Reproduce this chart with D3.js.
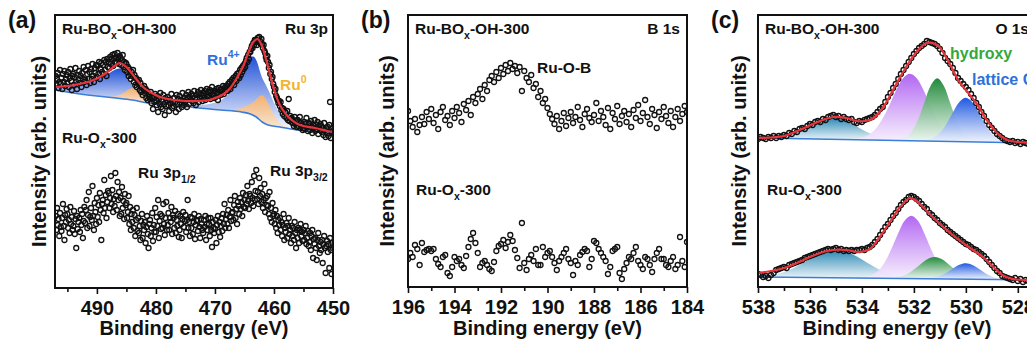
<!DOCTYPE html>
<html><head><meta charset="utf-8">
<script src="https://cdn.jsdelivr.net/npm/d3@7"></script>
<style>
html,body{margin:0;padding:0;background:#fff;overflow:hidden}
svg text{font-family:Arial,"Liberation Sans",sans-serif;font-weight:bold}
</style></head><body>
<svg id="chart" width="1027" height="345"></svg>
<script>
// ---------------- DATA ----------------
// (a) Ru 3p : binding-energy grid start / step, intensities (arb. units)
const ruStart = 497, ruStep = 0.125;
const ruBoxCounts = [
212,203,209,215,200,206,218,204, 210,199,214,206,217,202,209,213,
205,216,201,210,219,207,198,212, 214,203,211,220,206,199,213,208,
217,205,212,201,215,209,221,206, 208,218,203,214,222,209,216,205,
219,209,224,212,206,220,215,223, 211,222,214,226,209,219,225,216,
223,214,228,218,226,212,229,221, 226,220,231,224,229,233,222,230,
234,226,231,225,235,229,224,232, 230,223,228,233,221,226,218,225,
224,216,221,212,219,214,209,216, 212,218,206,213,203,210,201,207,
204,208,198,205,196,201,193,199, 202,195,199,190,197,188,194,191,
189,196,185,192,179,190,186,194, 188,183,192,176,189,184,195,181,
187,179,193,184,173,190,182,188, 191,183,177,188,185,194,180,186,
182,190,186,176,193,184,189,179, 192,185,188,181,195,187,183,190,
186,193,181,190,196,184,191,188, 194,187,192,185,197,190,183,193,
189,196,186,194,190,198,192,187, 195,190,197,188,194,199,191,196,
192,198,189,196,201,193,197,190, 197,191,199,195,188,200,194,198,
193,199,196,202,194,198,201,197, 202,197,204,200,206,199,203,208,
205,210,203,208,212,207,214,211, 215,210,218,213,220,216,222,219,
224,221,227,230,226,233,229,236, 236,239,242,240,245,243,248,246,
248,243,250,246,251,247,244,249, 244,240,243,237,235,231,228,232,
226,220,223,214,216,209,211,204, 201,196,199,192,190,188,185,187,
182,186,178,180,174,179,172,176, 175,170,177,168,189,167,172,169,
170,165,168,162,171,164,167,161, 168,162,166,171,160,165,163,158,
160,166,159,164,170,161,157,165, 164,158,167,161,155,163,160,168,
157,163,159,166,154,161,158,164, 162,156,160,153,165,158,151,160,
155,161,152,163,186,150,159,156, 157];
const ruOxCounts = [
72,58,80,63,69,52,75,61, 57,70,84,62,48,73,66,79,
74,60,68,55,81,64,71,58, 62,77,54,69,40,72,59,66,
70,56,78,63,74,50,67,81, 65,78,88,60,73,96,62,71,
80,68,102,72,58,85,76,64, 90,71,83,66,95,78,48,84,
88,75,108,80,93,70,86,97, 95,80,90,112,84,98,76,89,
82,115,92,78,106,88,96,72, 90,74,101,80,87,69,94,83,
85,70,76,92,64,81,58,74, 66,78,60,73,52,68,80,57,
70,55,62,48,67,74,50,63, 58,66,45,61,72,54,40,64,
68,52,60,75,47,63,56,80, 56,71,62,88,50,67,74,59,
72,60,84,64,53,70,86,58, 63,75,58,70,66,81,54,73,
70,60,77,55,68,62,74,51, 58,72,64,50,69,76,61,67,
73,56,68,88,60,66,52,71, 60,70,54,66,74,49,63,68,
67,57,72,61,50,69,64,58, 55,68,61,72,48,64,58,70,
64,52,70,58,41,66,60,55, 59,68,45,63,72,56,66,51,
62,70,57,74,64,84,60,69, 73,64,78,60,71,88,67,75,
76,68,83,92,70,79,64,86, 82,74,90,79,86,72,95,81,
88,80,93,84,102,87,79,94, 92,85,106,90,82,112,88,97,
118,89,96,84,110,92,100,86, 94,80,88,104,76,90,83,92,
82,74,96,70,80,66,85,72, 74,64,78,60,72,55,68,63,
70,58,66,52,63,74,48,60, 56,65,50,62,70,54,58,45,
62,52,60,48,66,55,40,58, 50,60,45,58,64,52,56,47,
58,48,55,62,44,50,57,42, 46,55,38,52,58,30,49,44,
50,40,28,48,55,42,35,46, 38,48,25,44,52,40,15,42,
47,36,44,20,50,38,14,45, 40];
const ruFit = [[497.1,201],[495,202],[493,204],[491,207],[489.5,211],[488,217],[487,222],[486.1,225],[485.2,222],[484.4,217],[483.2,208],[482.2,201],[481,196],[479.3,191],[477,188],[475,187],[473,187],[471,188],[469.5,191],[468.5,194],[467.4,200],[466.3,210],[465.2,222],[464.3,236],[463.5,246],[462.8,249],[462.1,243],[461.4,230],[460.6,212],[459.8,195],[459,183],[458,174],[457,168],[456,164],[455,162],[453,160],[451,157],[450,156]];
const ruBaseline = [[497.1,198],[494,195],[490,192],[486.8,190],[484,188],[481.3,185],[477,183],[472.8,180],[469,178],[465.5,176],[464,174],[463,171],[462,166],[461,163],[459,161],[456,158],[450,155]];
const ru4p12 = [[497.1,3],[495,6],[493,10],[491,14],[489.5,19],[488,24],[487,28],[486.1,30],[485.2,27],[484.4,18],[483.2,10],[482.2,7],[481,6],[479.3,5],[477,4],[475,3],[472,2],[469,1]];
const ru4p32 = [[476,1.5],[473,3],[471,5],[469.5,8],[468.5,12],[467.4,19],[466.3,30],[465.2,40],[464.3,53],[463.8,58],[463.4,59],[462.9,56],[462.4,49],[462,44],[461.4,39],[460.6,31],[459.8,21],[459,14],[458,10],[457,7],[455,4],[453,2.5],[450,1]];
const ru0p12 = [[488,0.5],[487,1.5],[486,4],[485.2,7.5],[484.4,11],[483.6,12],[482.8,10.5],[482,7.5],[481.2,4.5],[480.4,2],[479.6,0.7]];
const ru0p32 = [[468,0.5],[467,1.5],[466,3],[465,6],[464,10],[463.2,16],[462.5,23],[461.9,27],[461.3,24],[460.6,17],[459.9,10],[459.2,5],[458.4,2],[457.6,0.6]];
const ruMajor = [490,480,470,460,450], ruMinor = [495,485,475,465,455];

// (b) B 1s
const bStart = 196, bStep = 0.1;
const bBoxCounts = [
176,166,160,168,155,162,170,163,175,168, 178,164,172,158,175,180,167,171,162,176,
169,180,174,165,183,177,186,172,190,184, 193,198,188,202,196,207,211,205,215,209,
219,213,222,216,224,218,221,214,220,196, 216,209,205,212,199,203,190,196,184,188,
179,173,168,163,171,158,166,174,161,169, 175,164,170,180,167,160,173,178,169,165,
172,184,166,176,170,162,179,158,174,168, 181,163,171,176,165,173,160,177,169,182,
166,174,187,170,163,178,172,159,175,168, 180,171,164,176,160,170,178,166,173,181,175];
const bOxCounts = [
28,34,30,42,38,22,44,35,37,38, 36,38,28,23,20,30,32,14,11,20,
30,26,28,22,19,31,40,48,54,44, 34,20,24,26,22,18,16,25,36,41,
43,47,39,45,52,46,37,29,19,64, 24,17,28,32,26,38,22,22,40,30,
34,36,30,24,17,26,30,34,38,28, 24,12,26,22,32,35,38,36,20,28,
46,44,38,34,30,26,13,20,36,38, 40,14,8,18,24,30,28,34,40,26,
22,18,30,28,22,15,28,34,38,28, 28,22,20,26,30,18,22,50,26,20,45];
const bMajor = [196,194,192,190,188,186,184], bMinor = [195,193,191,189,187,185];

// (c) O 1s
const oStart = 538, oStep = 0.1;
const oBoxCounts = [
148,150,149,148,150,149,151,149,151,150, 152,151,154,153,156,155,158,159,158,161,
163,162,165,166,165,168,167,170,171,172, 170,171,168,170,168,167,168,165,164,166,
165,167,168,169,170,172,175,178,180,185, 190,194,199,203,208,213,217,221,225,229,
233,236,239,241,243,246,245,244,243,241, 238,234,229,226,223,219,214,209,206,203,
200,197,193,189,184,180,175,171,166,162, 159,156,153,151,149,147,146,145,146,144,
145,143,145,144,143,145,143,144];
const oOxCounts = [
13,12,10,11,9,12,14,17,18,19, 20,19,22,23,24,25,26,27,29,30,
31,32,33,34,35,36,37,38,37,38, 39,37,38,36,37,36,37,36,37,37,
38,37,39,40,42,45,48,52,56,60, 63,67,71,74,78,82,85,87,90,91,
90,88,86,83,80,78,74,72,69,67, 64,62,60,57,55,53,51,49,47,45,
43,42,40,38,37,35,33,31,28,25, 22,19,16,14,11,10,9,8,7,9,
6,8,5,7,6,8,6,7];
const oBoxFit = [[538,149],[537.5,149.5],[537,151],[536.4,157],[535.7,165],[535.1,170],[534.6,169],[534.2,166],[533.9,166],[533.6,168],[533.2,179],[532.7,202],[532.3,220],[531.9,235],[531.5,244],[531.1,242],[530.7,227],[530.3,207],[530,197],[529.6,184],[529.2,167],[528.8,154],[528.4,147],[528,145],[527.3,144]];
const oOxFit = [[538,14],[537.5,16],[537,19],[536.5,24],[536,30],[535.5,35],[535.1,37],[534.6,37],[534.1,35],[533.7,38],[533.4,47],[533.1,58],[532.8,70],[532.5,81],[532.15,89],[531.9,86],[531.65,80],[531.2,68],[530.6,54],[530,42],[529.3,29],[528.9,19],[528.6,12],[528.2,8],[527.3,7]];
const oBoxBaseline = [[538,149],[527.3,144]];
const oOxBaseline = [[538,10],[527.3,7]];
// component heights above baseline
const oBoxTeal = [[537.6,0.5],[537.35,1],[537.1,1.9],[536.85,3.3],[536.6,5.5],[536.35,8.4],[536.1,11.9],[535.85,15.6],[535.6,18.9],[535.35,21.2],[535.1,22],[534.85,21.2],[534.6,18.9],[534.35,15.6],[534.1,11.9],[533.85,8.4],[533.6,5.5],[533.35,3.3],[533.1,1.9],[532.85,1],[532.6,0.5]];
const oBoxPurple = [[534.15,1.1],[533.9,2.9],[533.65,6.7],[533.4,13.6],[533.15,24.2],[532.9,37.7],[532.65,51.9],[532.4,62.9],[532.15,67],[531.9,62.9],[531.65,51.9],[531.4,37.7],[531.15,24.2],[530.9,13.6],[530.65,6.7],[530.4,2.9],[530.15,1.1]];
const oBoxGreen = [[532.6,0.7],[532.35,2.8],[532.1,8.5],[531.85,20.5],[531.6,38.2],[531.35,55.6],[531.1,63],[530.85,55.6],[530.6,38.2],[530.35,20.5],[530.1,8.5],[529.85,2.8],[529.6,0.7]];
const oBoxBlue = [[531.5,1.1],[531.25,3.3],[531,8.4],[530.75,17.4],[530.5,29.1],[530.25,39.7],[530,44],[529.75,39.7],[529.5,29.1],[529.25,17.4],[529,8.4],[528.75,3.3],[528.5,1.1]];
const oOxTeal = [[538,0.7],[537.75,1.2],[537.5,2.1],[537.25,3.5],[537,5.4],[536.75,7.9],[536.5,11.1],[536.25,14.7],[536,18.5],[535.75,22.2],[535.5,25.3],[535.25,27.3],[535,28],[534.75,27.3],[534.5,25.3],[534.25,22.2],[534,18.5],[533.75,14.7],[533.5,11.1],[533.25,7.9],[533,5.4],[532.75,3.5],[532.5,2.1],[532.25,1.2],[532,0.7]];
const oOxPurple = [[533.85,1.2],[533.6,3.4],[533.35,8.3],[533.1,17.2],[532.85,30.4],[532.6,45.5],[532.35,58.1],[532.1,63],[531.85,58.1],[531.6,45.5],[531.35,30.4],[531.1,17.2],[530.85,8.3],[530.6,3.4],[530.35,1.2]];
const oOxGreen = [[532.7,1],[532.45,2.5],[532.2,5.5],[531.95,10.1],[531.7,15.6],[531.45,20.2],[531.2,22],[530.95,20.2],[530.7,15.6],[530.45,10.1],[530.2,5.5],[529.95,2.5],[529.7,1]];
const oOxBlue = [[531.5,0.4],[531.25,1.2],[531,3.1],[530.75,6.3],[530.5,10.6],[530.25,14.4],[530,16],[529.75,14.4],[529.5,10.6],[529.25,6.3],[529,3.1],[528.75,1.2],[528.5,0.4]];
const oMajor = [538,536,534,532,530,528], oMinor = [537,535,533,531,529];

// ---------------- DRAWING ----------------
const svg = d3.select("#chart");
const defs = svg.append("defs");
function grad(id, c1, c2, o2) {
  const g = defs.append("linearGradient").attr("id", id).attr("x1", 0).attr("y1", 0).attr("x2", 0).attr("y2", 1);
  g.append("stop").attr("offset", 0).attr("stop-color", c1);
  g.append("stop").attr("offset", 1).attr("stop-color", c2).attr("stop-opacity", o2 == null ? 1 : o2);
}
grad("gRu4", "#2152d6", "#ffffff", 0.95);
grad("gRu0", "#f2b06e", "#fbe6d2", 0.95);
grad("gTeal", "#2585b3", "#eaf4f8", 0.9);
grad("gPurple", "#b266f2", "#f6eefd", 0.9);
grad("gGreen", "#218a3c", "#eef8f0", 0.9);
grad("gBlue", "#1f58e0", "#eef3fd", 0.9);

const FONT = 'Arial, "Liberation Sans", sans-serif';

function rich(g, x, y, parts, size, color, anchor) {
  const t = g.append("text").attr("x", x).attr("y", y).attr("font-size", size)
    .attr("fill", color || "#111").attr("text-anchor", anchor || "start");
  let shift = 0;
  parts.forEach(p => {
    const s = typeof p === "string" ? p : p[0];
    const k = typeof p === "string" ? null : p[1];
    const target = k === "sub" ? size * 0.3 : k === "sup" ? -size * 0.42 : 0;
    t.append("tspan").attr("dy", target - shift).attr("font-size", k ? size * 0.68 : size).text(s);
    shift = target;
  });
  return t;
}

function panel(cfg, idx) {
  const x = d3.scaleLinear().domain(cfg.xDomain).range([cfg.left, cfg.right]);
  const y = d3.scaleLinear().domain(cfg.yDomain).range([cfg.bottom, cfg.top]);
  const g = svg.append("g");
  const clipId = "clip" + idx;
  defs.append("clipPath").attr("id", clipId).append("rect")
    .attr("x", cfg.left).attr("y", cfg.top).attr("width", cfg.right - cfg.left).attr("height", cfg.bottom - cfg.top);
  const plot = g.append("g").attr("clip-path", `url(#${clipId})`);

  (cfg.spectra || []).forEach(sp => {
    if (sp.baseline) {
      const base = d3.scaleLinear().domain(sp.baseline.map(d => d[0])).range(sp.baseline.map(d => d[1]));
      (sp.components || []).forEach(c => {
        const area = d3.area().curve(d3.curveCatmullRom.alpha(0.5))
          .x(d => x(d[0])).y0(d => y(base(d[0]))).y1(d => y(base(d[0]) + d[1]));
        plot.append("path").datum(c.data).attr("d", area).attr("fill", `url(#${c.fill})`);
      });
      plot.append("path").datum(sp.baseline)
        .attr("d", d3.line().x(d => x(d[0])).y(d => y(d[1])).curve(d3.curveMonotoneX))
        .attr("fill", "none").attr("stroke", "#3b7dd8").attr("stroke-width", 1.6);
    }
    const pts = sp.counts.map((v, i) => [sp.start - i * sp.step, v]);
    plot.append("g").selectAll("circle").data(pts).join("circle")
      .attr("cx", d => x(d[0])).attr("cy", d => y(d[1])).attr("r", 2.5)
      .attr("fill", "none").attr("stroke", "#111").attr("stroke-width", 1.3);
    if (sp.fit) {
      plot.append("path").datum(sp.fit)
        .attr("d", d3.line().x(d => x(d[0])).y(d => y(d[1])).curve(d3.curveCatmullRom.alpha(0.5)))
        .attr("fill", "none").attr("stroke", "#e8343c").attr("stroke-width", 2.2);
    }
  });

  // axes
  const ax = g.append("g").attr("transform", `translate(0,${cfg.bottom})`)
    .call(d3.axisBottom(x).tickValues(cfg.major).tickSize(6).tickPadding(7).tickFormat(d3.format("d")));
  ax.select(".domain").remove();
  ax.attr("font-size", 20).attr("font-family", FONT);
  ax.selectAll("text").attr("fill", "#111");
  ax.selectAll("line").attr("stroke", "#111").attr("stroke-width", 1.6);
  const axm = g.append("g").attr("transform", `translate(0,${cfg.bottom})`)
    .call(d3.axisBottom(x).tickValues(cfg.minor).tickSize(4).tickFormat(""));
  axm.select(".domain").remove();
  axm.selectAll("line").attr("stroke", "#111").attr("stroke-width", 1.6);

  // frame
  g.append("rect").attr("x", cfg.left).attr("y", cfg.top)
    .attr("width", cfg.right - cfg.left).attr("height", cfg.bottom - cfg.top)
    .attr("fill", "none").attr("stroke", "#111").attr("stroke-width", 2);

  // titles
  g.append("text").attr("x", (cfg.left + cfg.right) / 2).attr("y", 335)
    .attr("text-anchor", "middle").attr("font-size", 20).attr("fill", "#111").text("Binding energy (eV)");
  g.append("text").attr("transform", `translate(${cfg.yLabelX},${(cfg.top + cfg.bottom) / 2}) rotate(-90)`)
    .attr("text-anchor", "middle").attr("font-size", 20).attr("fill", "#111").text("Intensity (arb. units)");
  g.append("text").attr("x", cfg.left - 47).attr("y", 28).attr("font-size", 23).attr("fill", "#111").text(cfg.letter);
  cfg.labels(g);
}

// panel (a)
panel({
  left: 55, right: 333, top: 15, bottom: 288, xDomain: [497.1, 450], yDomain: [0, 273],
  major: ruMajor, minor: ruMinor, yLabelX: 46, letter: "(a)",
  spectra: [
    { counts: ruBoxCounts, start: ruStart, step: ruStep, fit: ruFit, baseline: ruBaseline,
      components: [ {data: ru4p12, fill: "gRu4"}, {data: ru4p32, fill: "gRu4"},
                    {data: ru0p12, fill: "gRu0"}, {data: ru0p32, fill: "gRu0"} ] },
    { counts: ruOxCounts, start: ruStart, step: ruStep }
  ],
  labels: g => {
    rich(g, 62, 34, ["Ru-BO", ["x", "sub"], "-OH-300"], 15.5);
    rich(g, 328, 34, ["Ru 3p"], 15.5, "#111", "end");
    rich(g, 207, 65, ["Ru", ["4+", "sup"]], 15.5, "#2f6fdc");
    rich(g, 280, 90, ["Ru", ["0", "sup"]], 15.5, "#f3b431");
    rich(g, 62, 143, ["Ru-O", ["x", "sub"], "-300"], 15.5);
    rich(g, 138, 178, ["Ru 3p", ["1/2", "sub"]], 15.5);
    rich(g, 270, 176, ["Ru 3p", ["3/2", "sub"]], 15.5);
  }
}, 0);

// panel (b)
panel({
  left: 408, right: 687, top: 15, bottom: 287, xDomain: [196, 184], yDomain: [0, 272],
  major: bMajor, minor: bMinor, yLabelX: 394, letter: "(b)",
  spectra: [
    { counts: bBoxCounts, start: bStart, step: bStep },
    { counts: bOxCounts, start: bStart, step: bStep }
  ],
  labels: g => {
    rich(g, 415, 34, ["Ru-BO", ["x", "sub"], "-OH-300"], 15.5);
    rich(g, 680, 34, ["B 1s"], 15.5, "#111", "end");
    rich(g, 537, 73, ["Ru-O-B"], 15.5);
    rich(g, 416, 195, ["Ru-O", ["x", "sub"], "-300"], 15.5);
  }
}, 1);

// panel (c)
panel({
  left: 758, right: 1036, top: 15, bottom: 287, xDomain: [538, 527.3], yDomain: [0, 272],
  major: oMajor, minor: oMinor, yLabelX: 746, letter: "(c)",
  spectra: [
    { counts: oBoxCounts, start: oStart, step: oStep, fit: oBoxFit, baseline: oBoxBaseline,
      components: [ {data: oBoxTeal, fill: "gTeal"}, {data: oBoxPurple, fill: "gPurple"},
                    {data: oBoxGreen, fill: "gGreen"}, {data: oBoxBlue, fill: "gBlue"} ] },
    { counts: oOxCounts, start: oStart, step: oStep, fit: oOxFit, baseline: oOxBaseline,
      components: [ {data: oOxTeal, fill: "gTeal"}, {data: oOxPurple, fill: "gPurple"},
                    {data: oOxGreen, fill: "gGreen"}, {data: oOxBlue, fill: "gBlue"} ] }
  ],
  labels: g => {
    rich(g, 765, 34, ["Ru-BO", ["x", "sub"], "-OH-300"], 15.5);
    rich(g, 1029, 34, ["O 1s"], 15.5, "#111", "end");
    rich(g, 950, 59, ["hydroxy"], 16, "#35a83c");
    rich(g, 972, 85, ["lattice O"], 16, "#2f6fdc");
    rich(g, 767, 195, ["Ru-O", ["x", "sub"], "-300"], 15.5);
  }
}, 2);
</script>
</body></html>
